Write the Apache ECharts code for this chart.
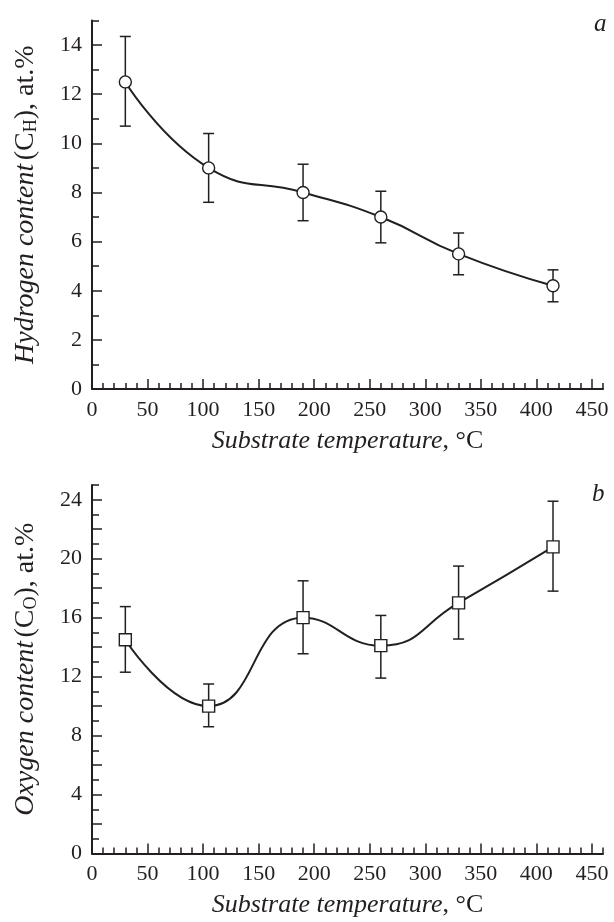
<!DOCTYPE html>
<html>
<head>
<meta charset="utf-8">
<script src="https://cdn.jsdelivr.net/npm/echarts@6/dist/echarts.min.js"></script>
<style>html,body{margin:0;padding:0;background:#fff}#c{width:614px;height:922px}</style>
</head>
<body>
<div id="c"></div>
<script>
// ---- data ----
const temperatures = [30, 105, 190, 260, 330, 415];
const hydrogenValues = [12.5, 9.0, 8.0, 7.0, 5.5, 4.2];
const hydrogenLow = [10.7, 7.6, 6.85, 5.95, 4.65, 3.55];
const hydrogenHigh = [14.35, 10.4, 9.15, 8.05, 6.35, 4.85];
const oxygenValues = [14.5, 10.0, 16.0, 14.1, 17.0, 20.8];
const oxygenLow = [12.3, 8.6, 13.55, 11.9, 14.55, 17.8];
const oxygenHigh = [16.75, 11.5, 18.5, 16.15, 19.5, 23.9];
const xTickLabels = ['0','50','100','150','200','250','300','350','400','450'];
const hTickLabels = ['0','2','4','6','8','10','12','14'];
const oTickLabels = ['0','4','8','12','16','20','24'];

// ---- styling ----
const INK = '#231f20';
const FONT = 'Liberation Serif';

function cats(maxV, step) { const a = []; for (let v = 0; v <= maxV; v += step) a.push(String(v)); return a; }
const xCats = cats(460, 10);
const hCats = cats(15, 1);
const oCats = cats(25, 1);

function xAxesFor(gridIndex) {
  return [
    { gridIndex, type: 'value', min: 0, max: 460, interval: 10, position: 'bottom',
      axisLine: { lineStyle: { color: INK, width: 2 } },
      axisTick: { inside: true, length: 6, lineStyle: { color: INK, width: 1.5 } },
      axisLabel: { show: false }, splitLine: { show: false },
      name: '{i|Substrate temperature}{n|, °C}', nameLocation: 'middle', nameGap: 39,
      nameTextStyle: { rich: {
        i: { fontFamily: FONT, fontStyle: 'italic', fontSize: 26, color: INK },
        n: { fontFamily: FONT, fontSize: 26, color: INK } } } },
    { gridIndex, type: 'category', data: xCats, boundaryGap: false, position: 'bottom',
      axisLine: { show: false },
      axisTick: { inside: true, length: 10, interval: (i, v) => xTickLabels.includes(v), lineStyle: { color: INK, width: 1.5 } },
      axisLabel: { interval: (i, v) => xTickLabels.includes(v), margin: 10, fontFamily: FONT, fontSize: 22, color: INK },
      splitLine: { show: false } }
  ];
}
function yAxesFor(gridIndex, maxV, catsArr, labels, nameRich) {
  return [
    { gridIndex, type: 'value', min: 0, max: maxV, interval: 1, position: 'left',
      axisLine: { lineStyle: { color: INK, width: 2 } },
      axisTick: { inside: true, length: 7, lineStyle: { color: INK, width: 1.5 } },
      axisLabel: { show: false }, splitLine: { show: false },
      name: nameRich, nameLocation: 'middle', nameGap: 52,
      nameTextStyle: { rich: {
        i: { fontFamily: FONT, fontStyle: 'italic', fontSize: 28, color: INK, lineHeight: 28 },
        n: { fontFamily: FONT, fontSize: 28, color: INK, lineHeight: 28 },
        s: { fontFamily: FONT, fontSize: 18, color: INK, verticalAlign: 'bottom', lineHeight: 8 } } } },
    { gridIndex, type: 'category', data: catsArr, boundaryGap: false, position: 'left',
      axisLine: { show: false },
      axisTick: { inside: true, length: 10, interval: (i, v) => (+v) % 2 === 0, lineStyle: { color: INK, width: 1.5 } },
      axisLabel: { interval: (i, v) => labels.includes(v), margin: 10, fontFamily: FONT, fontSize: 22, color: INK },
      splitLine: { show: false } }
  ];
}

function errorSeries(xi, yi, lows, highs) {
  return {
    type: 'custom', xAxisIndex: xi, yAxisIndex: yi, z: 2, silent: true,
    data: temperatures.map((t, k) => [t, lows[k], highs[k]]),
    renderItem: function (params, api) {
      const lo = api.coord([api.value(0), api.value(1)]);
      const hi = api.coord([api.value(0), api.value(2)]);
      const w = 5.5;
      const st = { stroke: INK, lineWidth: 1.5, fill: null };
      return { type: 'group', children: [
        { type: 'line', shape: { x1: lo[0], y1: lo[1], x2: hi[0], y2: hi[1] }, style: st },
        { type: 'line', shape: { x1: lo[0] - w, y1: lo[1], x2: lo[0] + w, y2: lo[1] }, style: st },
        { type: 'line', shape: { x1: hi[0] - w, y1: hi[1], x2: hi[0] + w, y2: hi[1] }, style: st }
      ] };
    }
  };
}
function lineSeries(xi, yi, vals, symbol) {
  return {
    type: 'line', xAxisIndex: xi, yAxisIndex: yi, z: 3,
    data: temperatures.map((t, k) => [t, vals[k]]),
    smooth: 0.5, smoothMonotone: null, smoothConstraint: false,
    symbol, symbolSize: 12,
    lineStyle: { color: INK, width: 2 },
    itemStyle: { color: '#fff', borderColor: INK, borderWidth: 1.4 },
    emphasis: { disabled: true }, animation: false
  };
}

const chart = echarts.init(document.getElementById('c'), null, { renderer: 'canvas' });
chart.setOption({
  animation: false,
  backgroundColor: '#fff',
  grid: [
    { left: 92, top: 20.5, width: 511, height: 368.5 },
    { left: 92, top: 485, width: 511, height: 368.5 }
  ],
  xAxis: [...xAxesFor(0), ...xAxesFor(1)],
  yAxis: [
    ...yAxesFor(0, 15, hCats, hTickLabels, '{i|Hydrogen content} {n|(C}{s|H}{n|), at.%}'),
    ...yAxesFor(1, 25, oCats, oTickLabels, '{i|Oxygen content} {n|(C}{s|O}{n|), at.%}')
  ],
  series: [
    errorSeries(0, 0, hydrogenLow, hydrogenHigh),
    lineSeries(0, 0, hydrogenValues, 'circle'),
    errorSeries(2, 2, oxygenLow, oxygenHigh),
    lineSeries(2, 2, oxygenValues, 'rect')
  ],
  graphic: [
    { type: 'text', left: 594, top: 12, style: { text: 'a', font: 'italic 25px "Liberation Serif"', fill: INK } },
    { type: 'text', left: 592, top: 482, style: { text: 'b', font: 'italic 25px "Liberation Serif"', fill: INK } }
  ]
});
</script>
</body>
</html>
